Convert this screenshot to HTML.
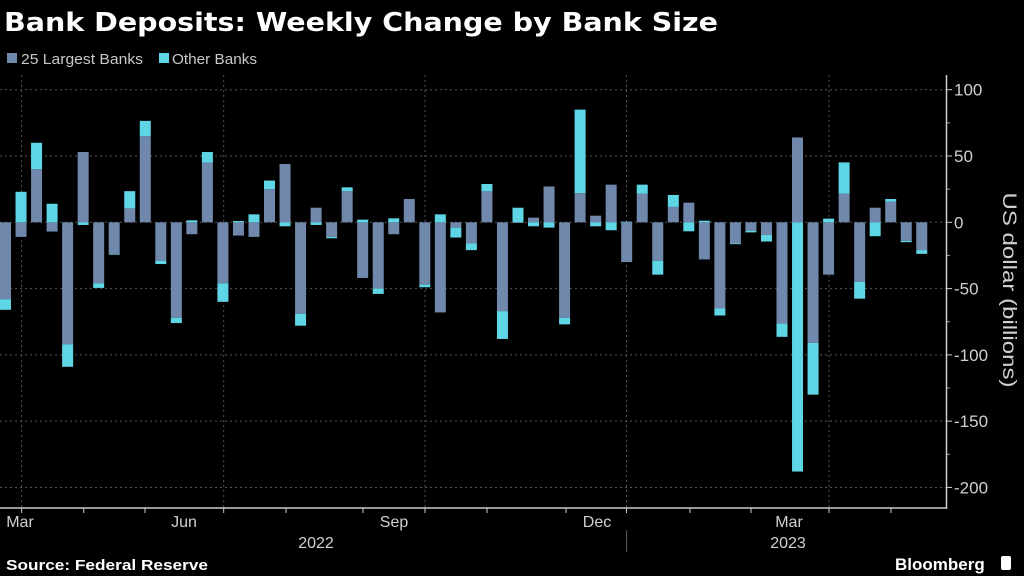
<!DOCTYPE html>
<html><head><meta charset="utf-8"><style>
html,body{margin:0;padding:0;background:#000;width:1024px;height:576px;overflow:hidden;font-family:"Liberation Sans",sans-serif;}
svg text{font-family:"Liberation Sans",sans-serif;}
</style></head><body>
<svg id="chart" width="1024" height="576" xmlns="http://www.w3.org/2000/svg">
<rect width="1024" height="576" fill="#000"/>
<text x="4" y="31" fill="#fff" font-size="26" font-weight="bold" style="font-family:'DejaVu Sans',sans-serif" textLength="714" lengthAdjust="spacingAndGlyphs">Bank Deposits: Weekly Change by Bank Size</text>
<g>
<g><rect x="7" y="53" width="10" height="10" fill="#7088ab"/><text x="21" y="64" fill="#c8c8c8" font-size="15" textLength="122" lengthAdjust="spacingAndGlyphs">25 Largest Banks</text></g>
<g><rect x="159" y="53" width="10" height="10" fill="#5fd6e6"/><text x="172" y="64" fill="#c8c8c8" font-size="15" textLength="85" lengthAdjust="spacingAndGlyphs">Other Banks</text></g>
</g>
<g id="grid"></g>
<g id="bars"></g>
<g id="axes"></g>
<text transform="translate(1003,290) rotate(90)" text-anchor="middle" fill="#d0d0d0" font-size="19" textLength="195" lengthAdjust="spacingAndGlyphs">US dollar (billions)</text>
<text x="6" y="570" fill="#fff" font-size="15" font-weight="bold" textLength="202" lengthAdjust="spacingAndGlyphs">Source: Federal Reserve</text>
<text x="895" y="570" fill="#fff" font-size="17" font-weight="bold">Bloomberg</text>
<rect x="1001" y="556" width="10" height="14" rx="2" fill="#fff"/>
</svg>
<script>
const large = [-58,-11,40,-7,-92,53,-46,-24,10.5,65,-29,-72,-9,45,-46,-10,-11,25,44,-69,11,-11,23.4,-42,-50,-9,17.6,-47,-68,-4,-16,23.4,-67,-0.5,3.5,27,-72,22,5,28.4,-30,21.6,-29,11.6,14.8,-28,-65,-16,-6.3,-9.5,-76.4,64,-91,-39.5,21.6,-45,11,15.6,-14,-21];
const other = [-8,23,20,14,-17,-2,-3.5,-0.5,13,11.5,-2.5,-4,1.5,8,-14,1,6,6.5,-3,-9,-2,-1,3,2,-4,3,0,-2,6,-7.5,-5,5.5,-21,11,-3,-4,-5,63,-3,-6,0.5,6.8,-10.5,9,-6.8,1.2,-5.3,-0.5,-1.3,-5,-10,-188,-39,2.8,23.6,-12.6,-10.5,2,-1,-2.8];
const yTicks = [100,50,0,-50,-100,-150,-200];
const monthLabels = ["Mar","Jun","Sep","Dec","Mar"];
const yearLabels = ["2022","2023"];
const NS="http://www.w3.org/2000/svg";
function y(v){return 222.3 - v*1.3257;}
function x(i){return i*15.53;}
function mk(tag,attrs,parent){const e=document.createElementNS(NS,tag);for(const k in attrs)e.setAttribute(k,attrs[k]);parent.appendChild(e);return e;}
const grid=document.getElementById('grid'),bars=document.getElementById('bars'),axes=document.getElementById('axes');
yTicks.forEach(t=>{
  const l=mk('line',{x1:0,x2:946,y1:y(t),y2:y(t),stroke:'#555','stroke-dasharray':'2,3'},grid);
  
  
  const tk=mk('line',{x1:946,x2:952,y1:y(t),y2:y(t),stroke:'#ccc'},axes);
  
  
  const tx=mk('text',{x:954,y:y(t)+6,fill:'#d0d0d0','font-size':'17'},axes);
  tx.textContent=(t<0?'-':'')+Math.abs(t);
  
  
});
for(let t=75;t>=-175;t-=50){
  const m=mk('line',{x1:946,x2:950,y1:y(t),y2:y(t),stroke:'#999'},axes);
  
  
}
[21.6,223.7,425,626.5,829].forEach(gx=>{
  const l=mk('line',{x1:gx,x2:gx,y1:75,y2:508,stroke:'#555','stroke-dasharray':'2,3'},grid);
  
  
});
large.forEach((v,i)=>{
  const o=other[i];
  let pos=0,neg=0;
  const segs=[[v,'#7088ab','bar-largest-'+i],[o,'#5fd6e6','bar-other-'+i]];
  segs.forEach(([val,col,name])=>{
    let top,bot;
    if(val>=0){bot=pos;top=pos+val;pos=top;}else{top=neg;bot=neg+val;neg=bot;}
    const r=mk('rect',{x:x(i),y:y(top),width:11,height:Math.max(0,y(bot)-y(top)),fill:col},bars);
    
    
  });
});
const ax=mk('line',{x1:946.5,x2:946.5,y1:75,y2:509,stroke:'#ccc','stroke-width':1.5},axes);


const bx=mk('line',{x1:0,x2:947,y1:508,y2:508,stroke:'#ccc','stroke-width':1.5},axes);


[21.6,83.7,145,223.7,286,363,425,487,566,626.5,690,751,829,891].forEach(tx=>{
  const t=mk('line',{x1:tx,x2:tx,y1:508,y2:513,stroke:'#ccc'},axes);
  
  
});
[20,184,394,597,789].forEach((cx,i)=>{
  const t=mk('text',{x:cx,y:527,fill:'#d0d0d0','font-size':'16','text-anchor':'middle'},axes);
  t.textContent=monthLabels[i];
  
  
});
[316,788].forEach((cx,i)=>{
  const t=mk('text',{x:cx,y:548,fill:'#d0d0d0','font-size':'16','text-anchor':'middle'},axes);
  t.textContent=yearLabels[i];
  
  
});
const sep=mk('line',{x1:626.5,x2:626.5,y1:530,y2:552,stroke:'#555'},axes);


</script>
</body></html>
